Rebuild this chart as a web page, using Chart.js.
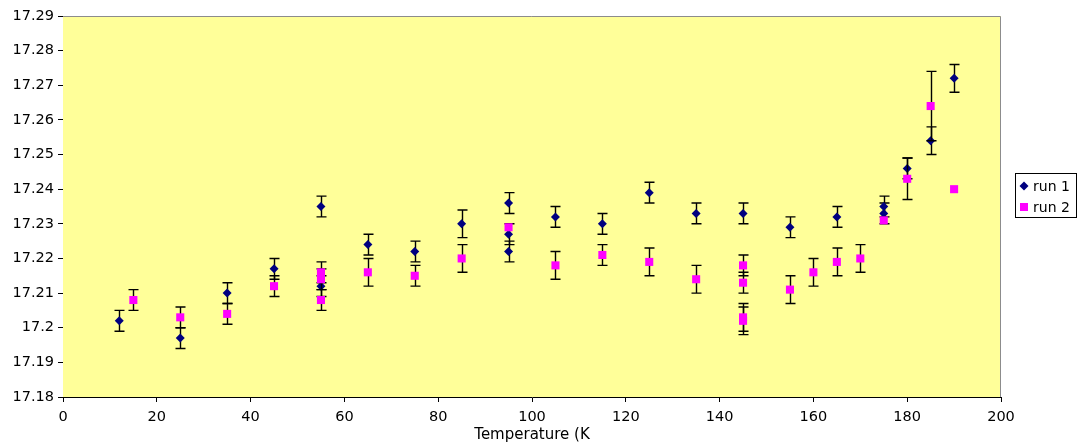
<!DOCTYPE html>
<html>
<head>
<meta charset="utf-8">
<script src="https://cdn.jsdelivr.net/npm/chart.js@4.4.0/dist/chart.umd.min.js"></script>
<style>
  html, body { margin: 0; padding: 0; background: #fff; }
  #wrap { width: 1077px; height: 442px; }
</style>
</head>
<body>
<div id="wrap"><canvas id="chart" width="1077" height="442"></canvas></div>
<script>
const run1X = [12, 25, 35, 45, 55, 55, 65, 75, 85, 95, 95, 95, 105, 115, 125, 135, 145, 155, 165, 175, 175, 180, 185, 190];
const run1Y = [17.202, 17.197, 17.210, 17.217, 17.235, 17.212, 17.224, 17.222, 17.230, 17.236, 17.227, 17.222, 17.232, 17.230, 17.239, 17.233, 17.233, 17.229, 17.232, 17.235, 17.233, 17.246, 17.254, 17.272];
const run1Err = [0.003, 0.003, 0.003, 0.003, 0.003, 0.003, 0.003, 0.003, 0.004, 0.003, 0.003, 0.003, 0.003, 0.003, 0.003, 0.003, 0.003, 0.003, 0.003, 0.003, 0.003, 0.003, 0.004, 0.004];

const run2X = [15, 25, 35, 45, 55, 55, 55, 65, 75, 85, 95, 105, 115, 125, 135, 145, 145, 145, 145, 155, 160, 165, 170, 175, 180, 185, 190];
const run2Y = [17.208, 17.203, 17.204, 17.212, 17.216, 17.214, 17.208, 17.216, 17.215, 17.220, 17.229, 17.218, 17.221, 17.219, 17.214, 17.218, 17.213, 17.203, 17.202, 17.211, 17.216, 17.219, 17.220, 17.231, 17.243, 17.264, 17.240];
const run2Err = [0.003, 0.003, 0.003, 0.003, 0.003, 0.003, 0.003, 0.004, 0.003, 0.004, 0, 0.004, 0.003, 0.004, 0.004, 0.003, 0.003, 0.004, 0.004, 0.004, 0.004, 0.004, 0.004, 0, 0.006, 0.010, 0];

const xTicks = [0, 20, 40, 60, 80, 100, 120, 140, 160, 180, 200];
const yTicks = [17.18, 17.19, 17.2, 17.21, 17.22, 17.23, 17.24, 17.25, 17.26, 17.27, 17.28, 17.29];
const seriesNames = ["run 1", "run 2"];
const xTitle = "Temperature (K";

const FONT = "'DejaVu Sans', Verdana, sans-serif";
const toPoints = (xs, ys) => xs.map((x, i) => ({ x, y: ys[i] }));

// yellow plot area with grey frame (Excel style)
const plotBg = {
  id: "plotBg",
  beforeDatasetsDraw(chart) {
    const { ctx, chartArea: a } = chart;
    ctx.save();
    ctx.fillStyle = "#ffff99";
    ctx.fillRect(a.left, a.top, a.width, a.height);
    ctx.strokeStyle = "#8c8c8c";
    ctx.lineWidth = 1;
    ctx.beginPath();
    ctx.moveTo(a.left, a.top + 0.5);
    ctx.lineTo(a.right - 0.5, a.top + 0.5);
    ctx.lineTo(a.right - 0.5, a.bottom);
    ctx.stroke();
    ctx.restore();
  },
};

// error bars drawn just under each series' markers
const errorBars = {
  id: "errorBars",
  beforeDatasetDraw(chart, args) {
    const ds = chart.data.datasets[args.index];
    if (!ds.errors) return;
    const { ctx, scales } = chart;
    ctx.save();
    ctx.strokeStyle = "#000";
    ctx.lineWidth = 1.4;
    ds.data.forEach((p, i) => {
      const e = ds.errors[i];
      if (!e) return;
      const x = Math.round(scales.x.getPixelForValue(p.x)) + 0.5;
      const yTop = scales.y.getPixelForValue(p.y + e);
      const yBot = scales.y.getPixelForValue(p.y - e);
      ctx.beginPath();
      ctx.moveTo(x, yTop);
      ctx.lineTo(x, yBot);
      ctx.moveTo(x - 5, yTop);
      ctx.lineTo(x + 5, yTop);
      ctx.moveTo(x - 5, yBot);
      ctx.lineTo(x + 5, yBot);
      ctx.stroke();
    });
    ctx.restore();
  },
};

// boxed legend to the right of the plot
const boxLegend = {
  id: "boxLegend",
  afterDraw(chart) {
    const { ctx, chartArea: a } = chart;
    const left = a.right + 14, top = 173;
    ctx.save();
    ctx.fillStyle = "#fff";
    ctx.fillRect(left + 0.5, top + 0.5, 61, 44);
    ctx.strokeStyle = "#000";
    ctx.lineWidth = 1;
    ctx.strokeRect(left + 0.5, top + 0.5, 61, 44);
    ctx.font = "14px " + FONT;
    ctx.textBaseline = "middle";
    chart.data.datasets.forEach((ds, i) => {
      const cy = top + 13 + i * 21;
      ctx.fillStyle = ds.backgroundColor;
      ctx.strokeStyle = ds.borderColor;
      Chart.helpers.drawPoint(ctx, { pointStyle: ds.pointStyle, radius: ds.pointRadius, borderWidth: 0 }, left + 9, cy);
      ctx.fillStyle = "#000";
      ctx.fillText(ds.label, left + 18, cy + 1);
    });
    ctx.restore();
  },
};

new Chart(document.getElementById("chart"), {
  type: "scatter",
  data: {
    datasets: [
      {
        label: seriesNames[0],
        data: toPoints(run1X, run1Y),
        errors: run1Err,
        pointStyle: "rectRot",
        pointRadius: 4.5,
        backgroundColor: "#000080",
        borderColor: "#000080",
        borderWidth: 0,
        order: 2,
      },
      {
        label: seriesNames[1],
        data: toPoints(run2X, run2Y),
        errors: run2Err,
        pointStyle: "rect",
        pointRadius: 5.7,
        backgroundColor: "#ff00ff",
        borderColor: "#ff00ff",
        borderWidth: 0,
        order: 1,
      },
    ],
  },
  options: {
    responsive: false,
    animation: false,
    layout: { padding: { left: 0, right: 76, top: 16, bottom: 0 } },
    plugins: {
      legend: { display: false },
      tooltip: { enabled: false },
    },
    scales: {
      x: {
        type: "linear",
        min: 0,
        max: 200,
        afterBuildTicks: (s) => { s.ticks = xTicks.map((v) => ({ value: v })); },
        afterFit: (s) => { s.height = 45; },
        ticks: { color: "#000", font: { family: FONT, size: 14.5 }, padding: 7, maxRotation: 0 },
        grid: { display: true, drawOnChartArea: false, drawTicks: true, tickLength: 5, color: "#000" },
        border: { display: true, color: "#000", width: 1 },
        title: { display: true, text: xTitle, color: "#000", font: { family: FONT, size: 15 }, padding: { top: 0, bottom: -2 } },
      },
      y: {
        type: "linear",
        min: 17.18,
        max: 17.29,
        afterBuildTicks: (s) => { s.ticks = yTicks.map((v) => ({ value: v })); },
        afterFit: (s) => { s.width = 63; },
        ticks: {
          color: "#000",
          font: { family: FONT, size: 14.5 },
          padding: 4,
          callback: (v) => String(Number(v.toFixed(2))),
        },
        grid: { display: true, drawOnChartArea: false, drawTicks: true, tickLength: 5, color: "#000" },
        border: { display: true, color: "#000", width: 1 },
      },
    },
  },
  plugins: [plotBg, errorBars, boxLegend],
});
</script>
</body>
</html>
